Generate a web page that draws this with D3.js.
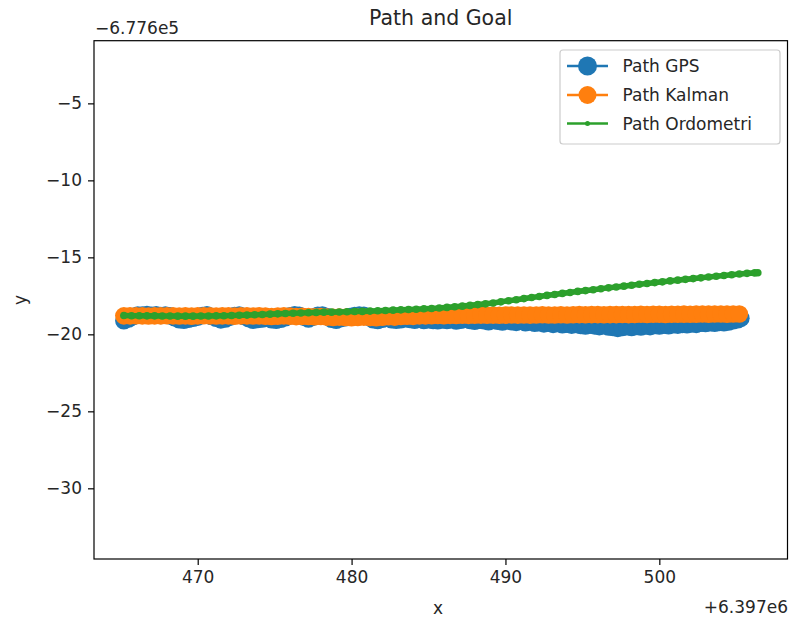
<!DOCTYPE html>
<html>
<head>
<meta charset="utf-8">
<script src="https://cdn.jsdelivr.net/npm/d3@7"></script>
<style>
  html, body { margin: 0; padding: 0; background: #fff; }
  svg { display: block; font-family: "DejaVu Sans", sans-serif; }
</style>
</head>
<body>
<svg id="chart" width="792" height="619"></svg>
<script>
// Coordinates are stored relative to the axis offsets shown on the plot.
const X_OFFSET_LABEL = "+6.397e6";
const Y_OFFSET_LABEL = "\u22126.776e5";

// GPS fixes (noisy)
const gpsX = [
  465.2, 465.5, 465.8, 466.1, 466.4, 466.7, 467.0, 467.3, 467.6, 467.9,
  468.2, 468.5, 468.8, 469.1, 469.4, 469.7, 470.0, 470.3, 470.6, 470.9,
  471.2, 471.5, 471.8, 472.1, 472.4, 472.7, 473.0, 473.3, 473.6, 473.9,
  474.2, 474.5, 474.8, 475.1, 475.4, 475.7, 476.0, 476.3, 476.6, 476.9,
  477.2, 477.5, 477.8, 478.1, 478.4, 478.7, 479.0, 479.3, 479.6, 479.9,
  480.2, 480.5, 480.8, 481.1, 481.4, 481.7, 482.0, 482.3, 482.6, 482.9,
  483.2, 483.5, 483.8, 484.1, 484.4, 484.7, 485.0, 485.3, 485.6, 485.9,
  486.2, 486.5, 486.8, 487.1, 487.4, 487.7, 488.0, 488.3, 488.6, 488.9,
  489.2, 489.5, 489.8, 490.1, 490.4, 490.7, 491.0, 491.3, 491.6, 491.9,
  492.2, 492.5, 492.8, 493.1, 493.4, 493.7, 494.0, 494.3, 494.6, 494.9,
  495.2, 495.5, 495.8, 496.1, 496.4, 496.7, 497.0, 497.3, 497.6, 497.9,
  498.2, 498.5, 498.8, 499.1, 499.4, 499.7, 500.0, 500.3, 500.6, 500.9,
  501.2, 501.5, 501.8, 502.1, 502.4, 502.7, 503.0, 503.3, 503.6, 503.9,
  504.2, 504.5, 504.8, 505.1, 505.3];
const gpsY = [
  -19.12, -19.0, -18.85, -18.74, -18.75, -18.72, -18.76, -18.73, -18.78, -18.75,
  -18.8, -18.92, -19.05, -19.08, -19.02, -18.95, -18.88, -18.78, -18.73, -18.84,
  -18.95, -19.06, -19.0, -18.88, -18.78, -18.74, -18.84, -18.98, -19.08, -19.04,
  -19.0, -18.94, -19.05, -19.08, -19.02, -18.92, -18.8, -18.73, -18.76, -18.88,
  -19.0, -18.88, -18.77, -18.74, -18.85, -19.02, -19.08, -18.98, -18.92, -18.84,
  -18.78, -18.74, -18.77, -18.88, -19.05, -19.1, -19.02, -18.95, -19.05, -19.08,
  -19.05, -18.98, -19.04, -19.08, -19.02, -19.1, -19.05, -19.1, -19.12, -19.06,
  -19.1, -19.05, -19.13, -19.08, -19.02, -19.1, -19.15, -19.08, -19.12, -19.18,
  -19.1, -19.15, -19.2, -19.12, -19.18, -19.22, -19.15, -19.25, -19.2, -19.28,
  -19.25, -19.32, -19.28, -19.35, -19.3, -19.38, -19.34, -19.4, -19.36, -19.42,
  -19.46, -19.4, -19.45, -19.5, -19.44, -19.52, -19.56, -19.61, -19.55, -19.5,
  -19.55, -19.48, -19.52, -19.45, -19.5, -19.42, -19.46, -19.4, -19.44, -19.38,
  -19.4, -19.35, -19.38, -19.32, -19.35, -19.28, -19.3, -19.25, -19.28, -19.22,
  -19.25, -19.2, -19.12, -19.05, -18.95];

// Kalman-filtered estimate
const kalmanX = [
  465.2, 465.6, 466.0, 466.4, 466.8, 467.2, 467.6, 468.0, 468.4, 468.8,
  469.2, 469.6, 470.0, 470.4, 470.8, 471.2, 471.6, 472.0, 472.4, 472.8,
  473.2, 473.6, 474.0, 474.4, 474.8, 475.2, 475.6, 476.0, 476.4, 476.8,
  477.2, 477.6, 478.0, 478.4, 478.8, 479.2, 479.6, 480.0, 480.4, 480.8,
  481.2, 481.6, 482.0, 482.4, 482.8, 483.2, 483.6, 484.0, 484.4, 484.8,
  485.2, 485.6, 486.0, 486.4, 486.8, 487.2, 487.6, 488.0, 488.4, 488.8,
  489.2, 489.6, 490.0, 490.4, 490.8, 491.2, 491.6, 492.0, 492.4, 492.8,
  493.2, 493.6, 494.0, 494.4, 494.8, 495.2, 495.6, 496.0, 496.4, 496.8,
  497.2, 497.6, 498.0, 498.4, 498.8, 499.2, 499.6, 500.0, 500.4, 500.8,
  501.2, 501.6, 502.0, 502.4, 502.8, 503.2, 503.6, 504.0, 504.4, 504.8,
  505.2];
const kalmanY = [
  -18.8, -18.8, -18.79, -18.8, -18.81, -18.8, -18.8, -18.79, -18.8, -18.81,
  -18.8, -18.82, -18.8, -18.79, -18.8, -18.81, -18.8, -18.8, -18.82, -18.8,
  -18.8, -18.81, -18.8, -18.82, -18.84, -18.82, -18.8, -18.82, -18.85, -18.83,
  -18.84, -18.86, -18.84, -18.88, -18.9, -18.88, -18.9, -18.92, -18.9, -18.88,
  -18.9, -18.92, -18.89, -18.86, -18.88, -18.84, -18.82, -18.83, -18.8, -18.8,
  -18.79, -18.78, -18.79, -18.77, -18.78, -18.76, -18.77, -18.76, -18.75, -18.76,
  -18.75, -18.76, -18.75, -18.74, -18.75, -18.74, -18.75, -18.74, -18.73, -18.74,
  -18.74, -18.73, -18.74, -18.73, -18.72, -18.73, -18.72, -18.72, -18.73, -18.72,
  -18.72, -18.71, -18.72, -18.71, -18.7, -18.71, -18.7, -18.7, -18.71, -18.7,
  -18.7, -18.69, -18.7, -18.69, -18.68, -18.69, -18.68, -18.68, -18.69, -18.68,
  -18.68];

// Odometry dead-reckoning
const odoX = [
  465.2, 465.7, 466.2, 466.7, 467.2, 467.7, 468.2, 468.7, 469.2, 469.7,
  470.2, 470.7, 471.2, 471.7, 472.2, 472.7, 473.2, 473.7, 474.2, 474.7,
  475.2, 475.7, 476.2, 476.7, 477.2, 477.7, 478.2, 478.7, 479.2, 479.7,
  480.2, 480.7, 481.2, 481.7, 482.2, 482.7, 483.2, 483.7, 484.2, 484.7,
  485.2, 485.7, 486.2, 486.7, 487.2, 487.7, 488.2, 488.7, 489.2, 489.7,
  490.2, 490.7, 491.2, 491.7, 492.2, 492.7, 493.2, 493.7, 494.2, 494.7,
  495.2, 495.7, 496.2, 496.7, 497.2, 497.7, 498.2, 498.7, 499.2, 499.7,
  500.2, 500.7, 501.2, 501.7, 502.2, 502.7, 503.2, 503.7, 504.2, 504.7,
  505.2, 505.7, 506.2, 506.4];
const odoY = [
  -18.78, -18.79, -18.79, -18.8, -18.8, -18.81, -18.81, -18.82, -18.82, -18.82,
  -18.81, -18.81, -18.8, -18.79, -18.78, -18.76, -18.75, -18.73, -18.71, -18.69,
  -18.67, -18.65, -18.63, -18.61, -18.6, -18.58, -18.57, -18.56, -18.55, -18.53,
  -18.52, -18.51, -18.49, -18.47, -18.45, -18.43, -18.41, -18.39, -18.37, -18.34,
  -18.32, -18.29, -18.25, -18.21, -18.17, -18.12, -18.07, -18.02, -17.96, -17.89,
  -17.82, -17.75, -17.68, -17.61, -17.54, -17.47, -17.41, -17.34, -17.28, -17.21,
  -17.16, -17.1, -17.04, -16.98, -16.93, -16.87, -16.81, -16.75, -16.7, -16.64,
  -16.59, -16.53, -16.48, -16.43, -16.38, -16.33, -16.28, -16.23, -16.18, -16.13,
  -16.08, -16.04, -16.01, -16.0];

const xTicks = [470, 480, 490, 500];
const yTicks = [-5, -10, -15, -20, -25, -30];

const seriesNames = ["Path GPS", "Path Kalman", "Path Ordometri"];
const seriesColors = ["#1f77b4", "#ff7f0e", "#2ca02c"];

const svg = d3.select("#chart");
const plot = { left: 94, right: 787.5, top: 40.7, bottom: 559 };

const x = d3.scaleLinear().domain([463.26, 508.33]).range([plot.left, plot.right]);
const y = d3.scaleLinear().domain([-34.59, -0.93]).range([plot.bottom, plot.top]);

const zip = (xs, ys) => xs.map((v, i) => [v, ys[i]]);
const line = d3.line().x(d => x(d[0])).y(d => y(d[1]));

svg.append("clipPath").attr("id", "plotclip")
  .append("rect")
  .attr("x", plot.left).attr("y", plot.top)
  .attr("width", plot.right - plot.left).attr("height", plot.bottom - plot.top);

const g = svg.append("g").attr("clip-path", "url(#plotclip)");

function drawSeries(data, color, lineWidth, radius) {
  g.append("path").datum(data)
    .attr("fill", "none").attr("stroke", color)
    .attr("stroke-width", lineWidth).attr("stroke-linejoin", "round")
    .attr("stroke-linecap", "round")
    .attr("d", line);
  g.append("g").selectAll("circle").data(data).join("circle")
    .attr("cx", d => x(d[0])).attr("cy", d => y(d[1]))
    .attr("r", radius).attr("fill", color);
}

drawSeries(zip(gpsX, gpsY), seriesColors[0], 2.6, 8.8);
drawSeries(zip(kalmanX, kalmanY), seriesColors[1], 2.6, 8.8);
drawSeries(zip(odoX, odoY), seriesColors[2], 5.6, 3.8);

// Frame
svg.append("rect")
  .attr("x", plot.left).attr("y", plot.top)
  .attr("width", plot.right - plot.left).attr("height", plot.bottom - plot.top)
  .attr("fill", "none").attr("stroke", "#000").attr("stroke-width", 1.2);

// Axes
const fmt = d3.format("d");
const xAxis = svg.append("g").attr("transform", `translate(0,${plot.bottom})`)
  .call(d3.axisBottom(x).tickValues(xTicks).tickFormat(fmt).tickSize(6).tickPadding(6));
const yAxis = svg.append("g").attr("transform", `translate(${plot.left},0)`)
  .call(d3.axisLeft(y).tickValues(yTicks).tickFormat(fmt).tickSize(6).tickPadding(6));
[xAxis, yAxis].forEach(a => {
  a.select(".domain").remove();
  a.selectAll(".tick line").attr("stroke", "#000").attr("stroke-width", 1.2);
  a.selectAll(".tick text").attr("fill", "#262626")
    .style("font-size", "17px").style("font-family", "DejaVu Sans");
});

// Offset texts
svg.append("text").attr("x", 95).attr("y", 33.5)
  .attr("fill", "#262626").style("font-size", "17px").text(Y_OFFSET_LABEL);
svg.append("text").attr("x", 788).attr("y", 613).attr("text-anchor", "end")
  .attr("fill", "#262626").style("font-size", "17px").text(X_OFFSET_LABEL);

// Title and axis labels
svg.append("text").attr("x", (plot.left + plot.right) / 2).attr("y", 25)
  .attr("text-anchor", "middle").attr("fill", "#262626")
  .style("font-size", "20.5px").text("Path and Goal");
svg.append("text").attr("x", 438).attr("y", 614)
  .attr("text-anchor", "middle").attr("fill", "#262626")
  .style("font-size", "17px").text("x");
svg.append("text").attr("transform", `translate(26,${(plot.top + plot.bottom) / 2}) rotate(-90)`)
  .attr("text-anchor", "middle").attr("fill", "#262626")
  .style("font-size", "17px").text("y");

// Legend
const legend = svg.append("g");
legend.append("rect")
  .attr("x", 560).attr("y", 50).attr("width", 220).attr("height", 94)
  .attr("rx", 3).attr("fill", "#fff").attr("fill-opacity", 0.8)
  .attr("stroke", "#cccccc").attr("stroke-width", 1.2);
const legendY = [66, 95, 123.5];
const legendR = [9.5, 9, 2.5];
seriesNames.forEach((name, i) => {
  const ly = legendY[i];
  legend.append("line").attr("x1", 567).attr("x2", 608).attr("y1", ly).attr("y2", ly)
    .attr("stroke", seriesColors[i]).attr("stroke-width", 2.6);
  legend.append("circle").attr("cx", 587.5).attr("cy", ly).attr("r", legendR[i])
    .attr("fill", seriesColors[i]);
  legend.append("text").attr("x", 622.5).attr("y", ly).attr("dy", "0.36em")
    .attr("fill", "#262626").style("font-size", "17px").text(name);
});
</script>
</body>
</html>
